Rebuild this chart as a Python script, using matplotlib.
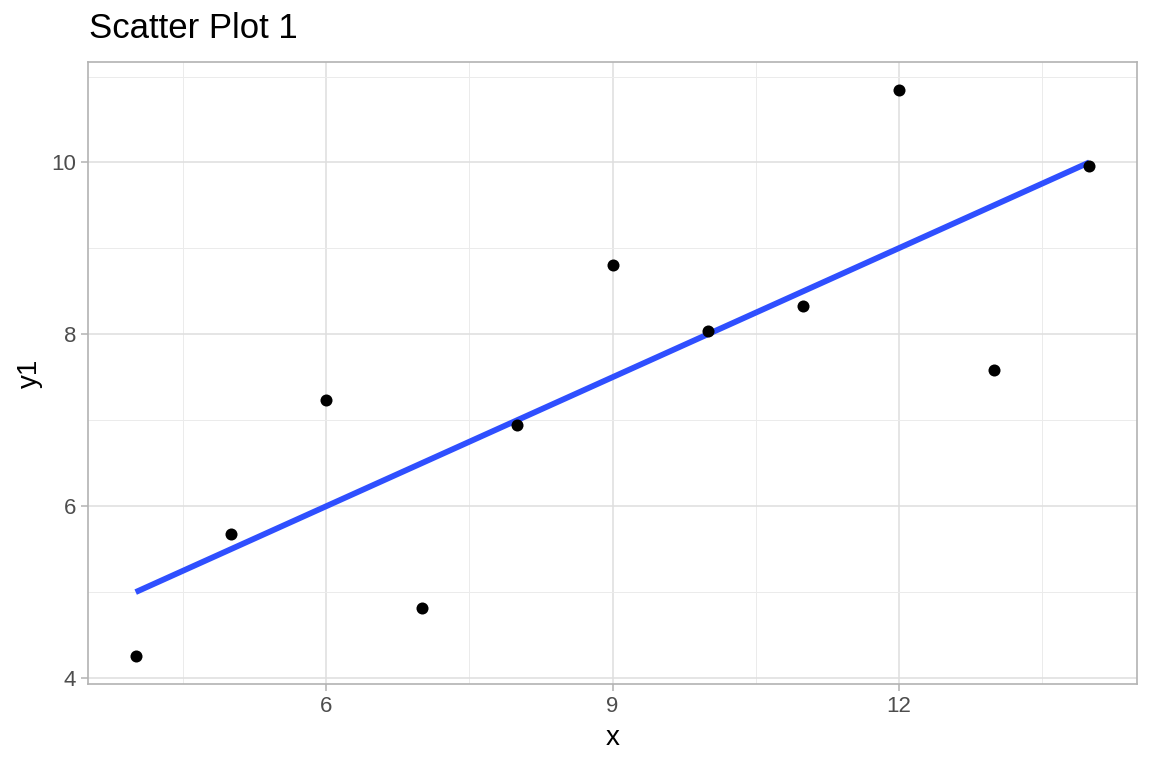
import matplotlib
matplotlib.use("Agg")
import matplotlib.pyplot as plt
import numpy as np

x = [10, 8, 13, 9, 11, 14, 6, 4, 12, 7, 5]
y1 = [8.04, 6.95, 7.58, 8.81, 8.33, 9.96, 7.24, 4.26, 10.84, 4.82, 5.68]
x_ticks = [6, 9, 12]
y_ticks = [4, 6, 8, 10]

plt.rcParams['font.family'] = ['Liberation Sans', 'DejaVu Sans']
fig = plt.figure(figsize=(11.52, 7.68), dpi=100)
ax = fig.add_axes([88/1152, 84/768, 1049/1152, 622/768])

xa = np.array(x, dtype=float)
ya = np.array(y1)
slope, intercept = np.polyfit(xa, ya, 1)
xl = np.array([xa.min(), xa.max()])
ax.plot(xl, intercept + slope * xl, color='#2F4FFF', lw=4.2, zorder=2, solid_capstyle='butt')
ax.scatter(xa, ya, s=75, color='black', zorder=3, linewidths=0)

xr = xa.max() - xa.min()
yr = ya.max() - ya.min()
ax.set_xlim(xa.min() - 0.05 * xr, xa.max() + 0.05 * xr)
ax.set_ylim(ya.min() - 0.05 * yr, ya.max() + 0.05 * yr)
ax.set_xticks(x_ticks)
ax.set_yticks(y_ticks)
ax.set_xticks([4.5, 7.5, 10.5, 13.5], minor=True)
ax.set_yticks([5, 7, 9, 11], minor=True)
ax.grid(which='major', color='#DEDEDE', lw=1.1)
ax.grid(which='minor', color='#EBEBEB', lw=0.7)
ax.set_axisbelow(True)
for s in ax.spines.values():
    s.set_color('#B3B3B3')
    s.set_linewidth(1.2)
ax.tick_params(which='major', color='#B3B3B3', length=5, width=1.1, labelsize=16, labelcolor='#4D4D4D', pad=3.5)
ax.tick_params(which='minor', length=0)
ax.set_xlabel('x', fontsize=20, labelpad=6)
ax.set_ylabel('y1', fontsize=20, labelpad=6)
fig.text(89/1152, 1 - 29/768, 'Scatter Plot 1', fontsize=25, va='center', ha='left')
fig.savefig('out.png', dpi=100)
